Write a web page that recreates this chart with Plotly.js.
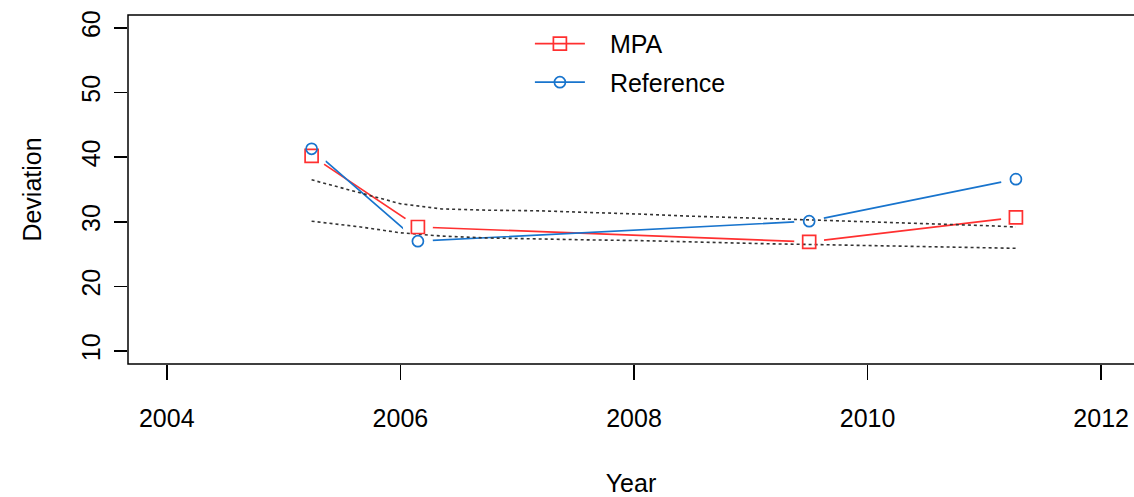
<!DOCTYPE html>
<html>
<head>
<meta charset="utf-8">
<script src="https://cdn.plot.ly/plotly-3.0.1.min.js"></script>
<style>
  html, body { margin: 0; padding: 0; background: #fff; }
  #chart { width: 1134px; height: 497px; }
</style>
</head>
<body>
<div id="chart"></div>
<script>
// Survey years and mean deviation for each site type
const years = [2005.24, 2006.15, 2009.50, 2011.27];
const mpaValues = [40.2, 29.2, 26.9, 30.7];
const referenceValues = [41.3, 27.0, 30.1, 36.6];

// Smoothed envelope drawn as two dotted curves
const bandYears = [2005.24, 2005.66, 2006.00, 2006.35, 2006.75, 2007.19, 2007.62, 2008.04,
                   2008.44, 2008.87, 2009.15, 2009.50, 2010.01, 2010.52, 2010.84, 2011.03, 2011.27];
const bandUpper = [36.5, 34.5, 32.8, 32.0, 31.8, 31.7, 31.5, 31.2,
                   30.9, 30.6, 30.5, 30.3, 30.0, 29.8, 29.6, 29.4, 29.2];
const bandLower = [30.1, 29.2, 28.3, 27.8, 27.5, 27.3, 27.2, 27.1,
                   26.9, 26.7, 26.6, 26.5, 26.3, 26.2, 26.0, 26.0, 25.9];

const xTicks = [2004, 2006, 2008, 2010, 2012];
const yTicks = [10, 20, 30, 40, 50, 60];

const RED = '#FF3030';
const BLUE = '#1874CD';
const FONT = 'Liberation Sans, Arial, Helvetica, sans-serif';
const FS = 25;
const LW = 1.7;

const traces = [
  // connecting lines (with legend entries)
  { x: years, y: mpaValues, name: 'MPA', mode: 'lines+markers', legendgroup: 'mpa',
    line: { color: RED, width: LW },
    marker: { symbol: 'square-open', size: 13, color: RED, line: { width: LW, color: RED } } },
  { x: years, y: referenceValues, name: 'Reference', mode: 'lines+markers', legendgroup: 'ref',
    line: { color: BLUE, width: LW },
    marker: { symbol: 'circle-open', size: 11, color: BLUE, line: { width: LW, color: BLUE } } },
  // white halos leave a gap between each point and its segments
  { x: years.concat(years), y: mpaValues.concat(referenceValues), mode: 'markers',
    showlegend: false, hoverinfo: 'skip',
    marker: { symbol: 'circle', size: 30, color: '#ffffff', line: { width: 0 } } },
  // dotted envelope
  { x: bandYears, y: bandUpper, mode: 'lines', showlegend: false,
    line: { color: '#333333', width: 1.6, dash: 'dot' } },
  { x: bandYears, y: bandLower, mode: 'lines', showlegend: false,
    line: { color: '#333333', width: 1.6, dash: 'dot' } },
  // point symbols on top
  { x: years, y: mpaValues, mode: 'markers', showlegend: false,
    marker: { symbol: 'square-open', size: 13, color: RED, line: { width: LW, color: RED } } },
  { x: years, y: referenceValues, mode: 'markers', showlegend: false,
    marker: { symbol: 'circle-open', size: 11, color: BLUE, line: { width: LW, color: BLUE } } }
];

const layout = {
  width: 1134, height: 497,
  margin: { l: 128, r: 0, t: 15, b: 133 },
  paper_bgcolor: '#ffffff', plot_bgcolor: '#ffffff',
  font: { family: FONT, size: FS, color: '#000' },
  showlegend: true,
  legend: {
    x: 0.3995, y: 0.983, xanchor: 'left', yanchor: 'top',
    bgcolor: 'rgba(0,0,0,0)', borderwidth: 0,
    traceorder: 'grouped', tracegroupgap: 3,
    font: { family: FONT, size: FS, color: '#000' },
    itemwidth: 50
  },
  xaxis: {
    range: [2003.668, 2012.281], tickvals: xTicks, ticktext: xTicks.map(String),
    ticks: 'outside', ticklen: 15, tickwidth: 1.5, tickcolor: '#000',
    showgrid: false, zeroline: false, showline: false,
    tickfont: { family: FONT, size: FS, color: '#000' },
    ticklabelstandoff: 17,
    title: { text: 'Year', font: { family: FONT, size: FS, color: '#000' }, standoff: 46 },
    automargin: false
  },
  yaxis: {
    range: [8, 62], tickvals: yTicks, ticktext: yTicks.map(String),
    ticks: 'outside', ticklen: 13, tickwidth: 1.5, tickcolor: '#000', tickangle: -90,
    showgrid: false, zeroline: false, showline: false,
    tickfont: { family: FONT, size: FS, color: '#000' },
    title: { text: 'Deviation', font: { family: FONT, size: FS, color: '#000' }, standoff: 32 },
    automargin: false
  },
  shapes: [
    { type: 'rect', xref: 'paper', yref: 'paper', x0: 0, x1: 1.02, y0: 0, y1: 1,
      line: { color: '#000', width: 1.5 }, fillcolor: 'rgba(0,0,0,0)', layer: 'above' }
  ]
};

Plotly.newPlot('chart', traces, layout, { staticPlot: true, displayModeBar: false })
  .then(function (gd) {
    // leave a wider gap between the legend symbols and their labels
    gd.querySelectorAll('.legend .scrollbox').forEach(function (s) {
      s.removeAttribute('clip-path');
    });
    gd.querySelectorAll('.legend .legendtext').forEach(function (t) {
      const x0 = parseFloat(t.getAttribute('x')) || 0;
      t.setAttribute('x', x0 + 20);
    });
    // set the rotated y tick labels (not the tick marks) a little further from the axis
    gd.querySelectorAll('.yaxislayer-above g.ytick').forEach(function (g) {
      const tf = g.getAttribute('transform') || '';
      g.setAttribute('transform', 'translate(-4,0) ' + tf);
    });
  });
</script>
</body>
</html>
